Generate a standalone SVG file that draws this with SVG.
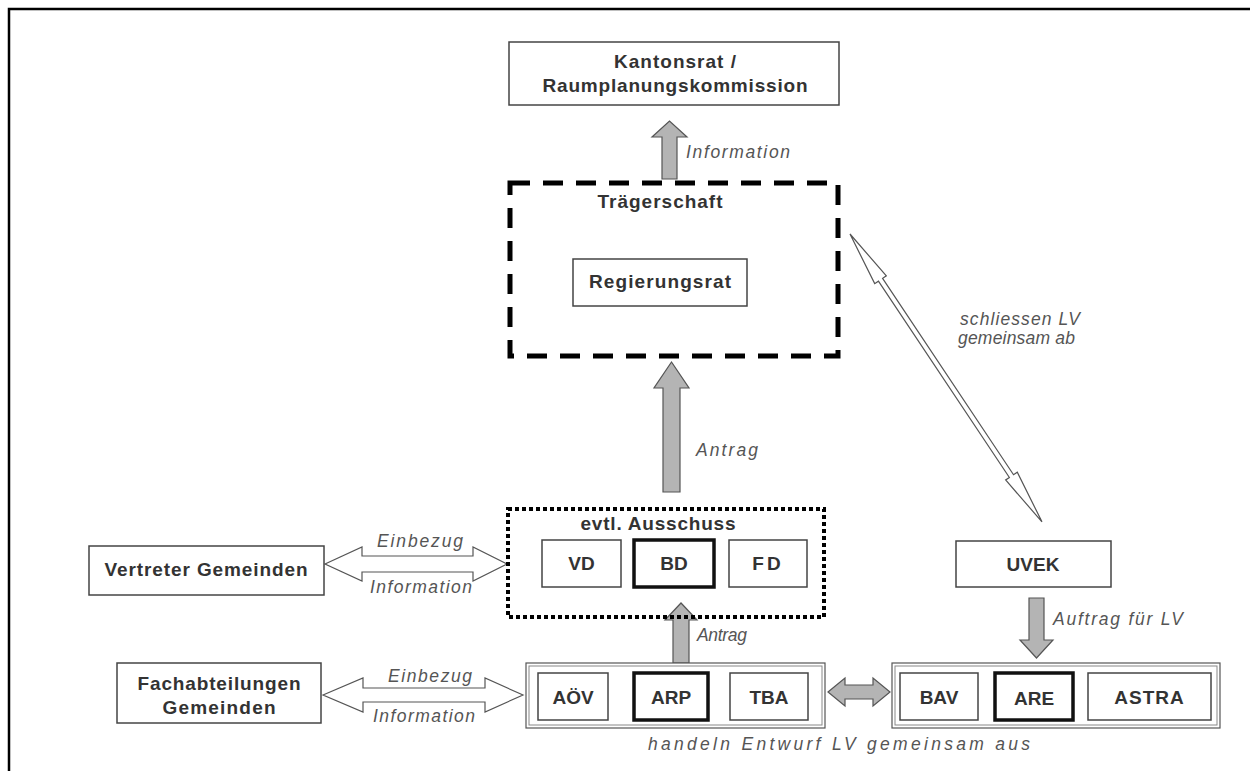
<svg xmlns="http://www.w3.org/2000/svg" width="1250" height="771" viewBox="0 0 1250 771">
<style>
.bx{fill:#fff;stroke:#444;stroke-width:1.5}
.bxt{fill:#fff;stroke:#111;stroke-width:3.5}
.grp{fill:#fff;stroke:#555;stroke-width:1.2}
.grpi{fill:none;stroke:#888;stroke-width:1}
.lb{font-family:"Liberation Sans",Arial,sans-serif;font-weight:bold;font-size:19px;fill:#333;text-anchor:middle}
.it{font-family:"Liberation Sans",Arial,sans-serif;font-style:italic;font-size:17.5px;fill:#555}
.ga{fill:#b4b4b4;stroke:#555;stroke-width:1.2;stroke-linejoin:miter}
.wa{fill:#fff;stroke:#555;stroke-width:1.2}
</style>
<rect x="0" y="0" width="1250" height="771" fill="#fff"/>
<path d="M9,771 V9 H1250" fill="none" stroke="#000" stroke-width="2.5"/>

<g id="connectors">
<polygon class="ga" points="662,179 662,137 652,137 669.5,121 687,137 677,137 677,179"/>
<polygon class="ga" points="663,492 663,388 654,388 671.5,362 689,388 680,388 680,492"/>
<polygon class="ga" points="673,663 673,620 665,620 681,603 697,620 689,620 689,663"/>
<polygon class="ga" points="1029,598 1029,640 1020,640 1036.5,658 1053,640 1044,640 1044,598"/>
<polygon class="ga" points="828,692 845,678 845,685 873,685 873,678 890,692 873,706 873,699 845,699 845,706"/>
<polygon class="wa" points="325,564 362,547 362,556 473,556 473,547 507,564 473,581 473,572 362,572 362,581"/>
<polygon class="wa" points="323,695 363,678 363,688 485,688 485,678 523,695 485,712 485,702 363,702 363,712"/>
<g transform="translate(850,234) rotate(56.3)">
<polygon class="wa" stroke-width="1" points="0,0 55,-7 55,-2.5 291,-2.5 291,-7 346,0 291,7 291,2.5 55,2.5 55,7"/>
</g>
<text class="it" x="686" y="158" textLength="104" lengthAdjust="spacing">Information</text>
<text class="it" x="696" y="456" textLength="62" lengthAdjust="spacing">Antrag</text>
<text class="it" x="697" y="641" textLength="50" lengthAdjust="spacing">Antrag</text>
<text class="it" x="1053" y="625" textLength="130" lengthAdjust="spacing">Auftrag für LV</text>
<text class="it" x="960" y="325" textLength="120" lengthAdjust="spacing">schliessen LV</text>
<text class="it" x="958" y="344" textLength="117" lengthAdjust="spacing">gemeinsam ab</text>
<text class="it" x="377" y="547" textLength="86" lengthAdjust="spacing">Einbezug</text>
<text class="it" x="370" y="593" textLength="102" lengthAdjust="spacing">Information</text>
<text class="it" x="388" y="682" textLength="84" lengthAdjust="spacing">Einbezug</text>
<text class="it" x="373" y="722" textLength="102" lengthAdjust="spacing">Information</text>
<text class="it" x="648" y="750" textLength="382" lengthAdjust="spacing">handeln Entwurf LV gemeinsam aus</text>
</g>

<g id="kantonsrat">
<rect class="bx" x="509" y="42" width="330" height="63"/>
<text class="lb" x="675" y="68" textLength="122" lengthAdjust="spacing">Kantonsrat /</text>
<text class="lb" x="675" y="92" textLength="265" lengthAdjust="spacing">Raumplanungskommission</text>
</g>

<g id="traegerschaft">
<rect x="510" y="183" width="328" height="173" fill="none" stroke="#000" stroke-width="5" stroke-dasharray="20 13"/>
<text class="lb" x="660" y="208" textLength="125" lengthAdjust="spacing">Trägerschaft</text>
</g>

<g id="regierungsrat">
<rect class="bx" x="573" y="259" width="174" height="47"/>
<text class="lb" x="660" y="288" textLength="142" lengthAdjust="spacing">Regierungsrat</text>
</g>

<g id="ausschuss">
<rect x="508" y="509" width="316" height="108" fill="none" stroke="#000" stroke-width="4" stroke-dasharray="4 3"/>
<text class="lb" x="658" y="530" textLength="155" lengthAdjust="spacing">evtl. Ausschuss</text>
</g>
<g id="vd"><rect class="bx" x="542" y="540" width="79" height="47"/><text class="lb" x="581.5" y="570">VD</text></g>
<g id="bd"><rect class="bxt" x="634" y="540" width="80" height="47"/><text class="lb" x="674" y="570">BD</text></g>
<g id="fd"><rect class="bx" x="729" y="540" width="78" height="47"/><text class="lb" x="768" y="570" letter-spacing="3">FD</text></g>

<g id="vertreter">
<rect class="bx" x="89" y="546" width="235" height="49"/>
<text class="lb" x="206" y="576" textLength="203" lengthAdjust="spacing">Vertreter Gemeinden</text>
</g>

<g id="uvek">
<rect class="bx" x="956" y="541" width="155" height="46"/>
<text class="lb" x="1033" y="571">UVEK</text>
</g>

<g id="fachabteilungen">
<rect class="bx" x="117" y="663" width="204" height="60"/>
<text class="lb" x="219" y="690" textLength="163" lengthAdjust="spacing">Fachabteilungen</text>
<text class="lb" x="219" y="714" textLength="113" lengthAdjust="spacing">Gemeinden</text>
</g>

<g id="kanton-aemter">
<rect class="grp" x="526" y="663" width="299" height="65"/>
<rect class="grpi" x="529" y="666" width="293" height="59"/>
</g>
<g id="aoev"><rect class="bx" x="538" y="673" width="70" height="47"/><text class="lb" x="573" y="704">AÖV</text></g>
<g id="arp"><rect class="bxt" x="634" y="673" width="74" height="47"/><text class="lb" x="671" y="704">ARP</text></g>
<g id="tba"><rect class="bx" x="730" y="673" width="78" height="47"/><text class="lb" x="769" y="704">TBA</text></g>

<g id="bund-aemter">
<rect class="grp" x="892" y="663" width="328" height="65"/>
<rect class="grpi" x="895" y="666" width="322" height="59"/>
</g>
<g id="bav"><rect class="bx" x="900" y="673" width="78" height="47"/><text class="lb" x="939" y="704">BAV</text></g>
<g id="are"><rect class="bxt" x="995" y="673" width="78" height="47"/><text class="lb" x="1034" y="705">ARE</text></g>
<g id="astra"><rect class="bx" x="1088" y="673" width="123" height="47"/><text class="lb" x="1149.5" y="704" letter-spacing="1">ASTRA</text></g>
</svg>
